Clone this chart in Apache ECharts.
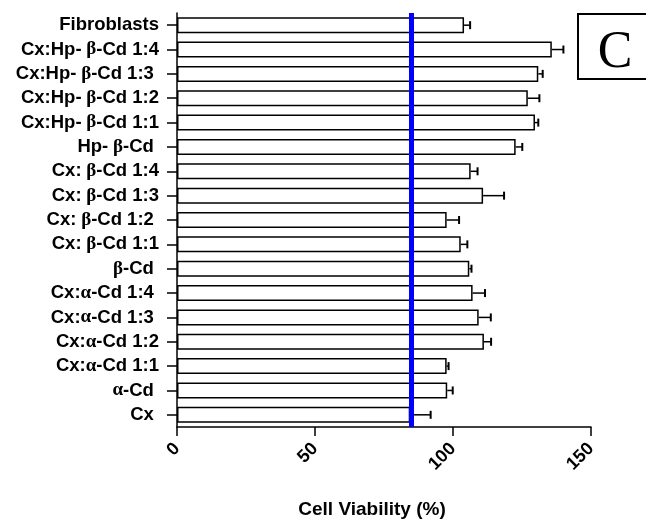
<!DOCTYPE html>
<html>
<head>
<meta charset="utf-8">
<script src="https://cdn.jsdelivr.net/npm/echarts@6/dist/echarts.min.js"></script>
<style>
  html, body { margin: 0; padding: 0; background: #fff; }
  #chart { width: 646px; height: 524px; }
</style>
</head>
<body>
<div id="chart"></div>
<script>
// categories, top to bottom (trailing spaces as in the original figure)
var groups = ['Fibroblasts', 'Cx:Hp-β-Cd 1:4', 'Cx:Hp-β-Cd 1:3 ', 'Cx:Hp-β-Cd 1:2', 'Cx:Hp-β-Cd 1:1',
  'Hp-β-Cd ', 'Cx:β-Cd 1:4', 'Cx:β-Cd 1:3', 'Cx:β-Cd 1:2 ', 'Cx:β-Cd 1:1', 'β-Cd ',
  'Cx:α-Cd 1:4 ', 'Cx:α-Cd 1:3 ', 'Cx:α-Cd 1:2', 'Cx:α-Cd 1:1', 'α-Cd ', 'Cx '];
// mean cell viability (%)
var viability = [104.0, 135.8, 130.9, 127.1, 129.7, 122.7, 106.4, 110.9, 97.7, 102.8, 105.9,
  107.1, 109.3, 111.2, 97.7, 97.9, 84.5];
// error (SD)
var errors = [2.2, 4.2, 1.6, 4.2, 1.2, 2.4, 2.5, 7.6, 4.5, 2.4, 0.8, 4.5, 4.4, 2.6, 0.7, 2.0, 7.4];
var xTicks = [0, 50, 100, 150];
var threshold = 85;

var chart = echarts.init(document.getElementById('chart'));

var errData = viability.map(function (v, i) { return [v, i, errors[i]]; });

// greek letters drawn in a serif face, like the Symbol font in the figure
function fmtLabel(s) {
  return s.replace(/-β/g, '-{g| β}').replace(/^β/, '{g|β}')
    .replace(/:β/g, ':{g| β}').replace(/α/g, '{g|α}');
}

chart.setOption({
  animation: false,
  grid: { left: 177, right: 55, top: 13, bottom: 97 },
  xAxis: {
    type: 'value',
    min: 0, max: 150, interval: 50,
    name: 'Cell Viability (%)',
    nameLocation: 'middle',
    nameGap: 73,
    nameTextStyle: { fontFamily: 'Liberation Sans', fontWeight: 'bold', fontSize: 19, color: '#000', padding: [0, 24, 0, 0] },
    axisLine: { show: true, lineStyle: { color: '#000', width: 1.5 } },
    axisTick: { show: true, length: 9, lineStyle: { color: '#000', width: 1.5 } },
    axisLabel: {
      rotate: 45, margin: 19,
      fontFamily: 'Liberation Sans', fontWeight: 'bold', fontSize: 18, color: '#000',
      formatter: function (v) { return xTicks.indexOf(v) >= 0 ? String(v) : ''; }
    },
    splitLine: { show: false }
  },
  yAxis: {
    type: 'category',
    data: groups,
    inverse: true,
    axisLine: { show: true, lineStyle: { color: '#000', width: 1.5 } },
    axisTick: { show: true, alignWithLabel: true, interval: 0, length: 10, lineStyle: { color: '#000', width: 1.5 } },
    axisLabel: {
      interval: 0, margin: 18, color: '#000',
      fontFamily: 'Liberation Sans', fontWeight: 'bold', fontSize: 18.5,
      formatter: fmtLabel,
      rich: {
        g: { fontFamily: 'Liberation Serif', fontWeight: 'bold', fontSize: 19, color: '#000' }
      }
    },
    splitLine: { show: false }
  },
  series: [
    {
      type: 'bar',
      data: viability,
      barWidth: 16,
      itemStyle: { color: '#fff', borderColor: '#000', borderWidth: 1.5 },
      markLine: {
        silent: true,
        symbol: 'none',
        label: { show: false },
        lineStyle: { color: '#0000ff', width: 5, type: 'solid' },
        data: [{ xAxis: threshold }],
        z: 10
      }
    },
    {
      type: 'custom',
      data: errData,
      encode: { x: 0, y: 1 },
      z: 5,
      renderItem: function (params, api) {
        var idx = api.value(1);
        var p0 = api.coord([api.value(0), idx]);
        var p1 = api.coord([api.value(0) + api.value(2), idx]);
        var style = { stroke: '#000', lineWidth: 1.5 };
        return {
          type: 'group',
          children: [
            { type: 'line', shape: { x1: p0[0], y1: p0[1], x2: p1[0], y2: p1[1] }, style: style },
            { type: 'line', shape: { x1: p1[0], y1: p1[1] - 4, x2: p1[0], y2: p1[1] + 4 }, style: { stroke: '#000', lineWidth: 2 } }
          ]
        };
      }
    }
  ],
  graphic: [
    {
      type: 'rect',
      shape: { x: 578, y: 14, width: 80, height: 65 },
      style: { fill: '#fff', stroke: '#000', lineWidth: 2 }
    },
    {
      type: 'text',
      x: 615, y: 53,
      style: {
        text: 'C', fontFamily: 'Liberation Serif', fontSize: 52, fill: '#000',
        textAlign: 'center', textVerticalAlign: 'middle'
      }
    }
  ]
});
</script>
</body>
</html>
